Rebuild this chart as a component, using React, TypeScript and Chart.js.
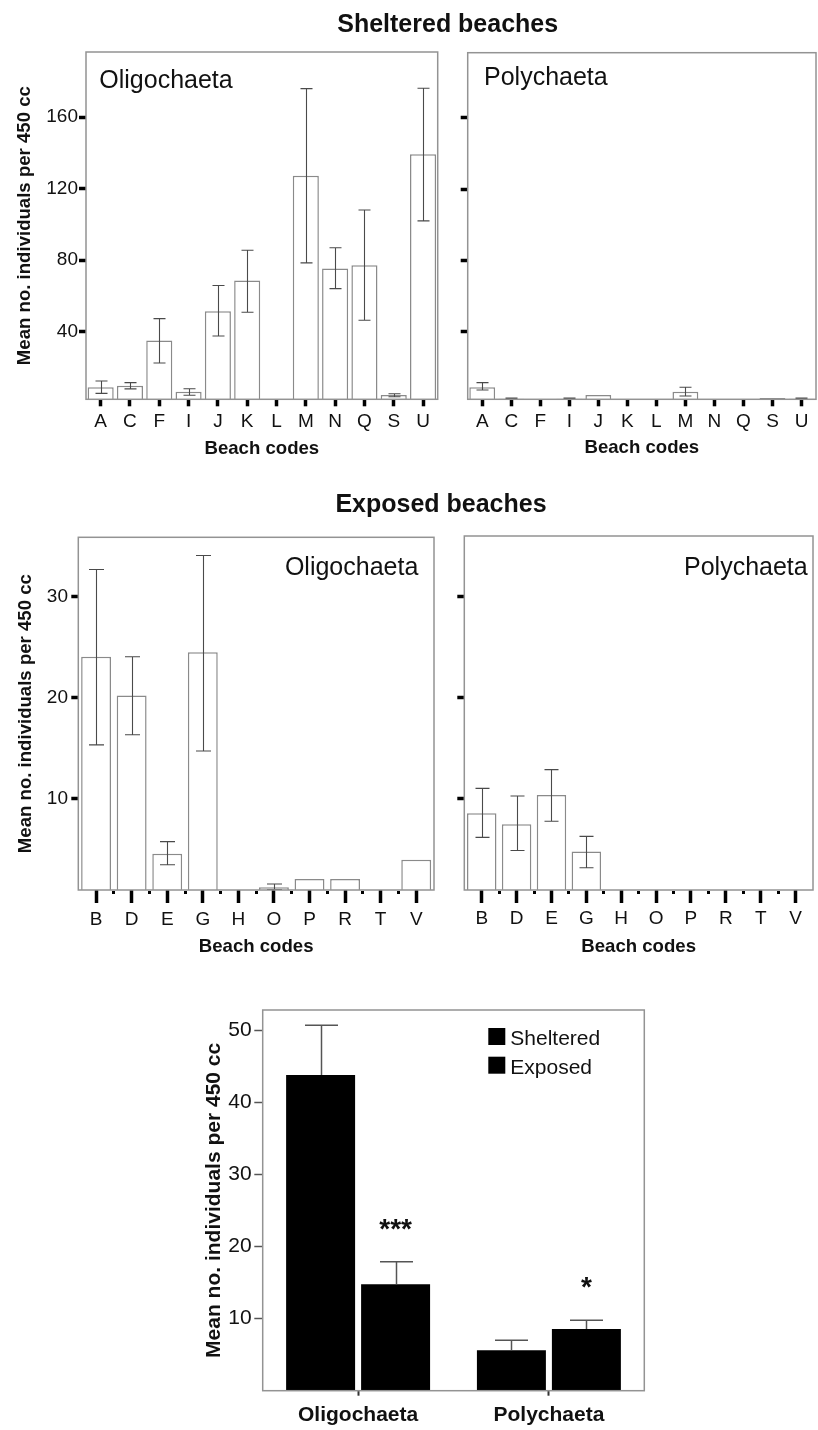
import React, { useEffect, useRef } from "react";
import { Chart, registerables } from "chart.js";

Chart.register(...registerables);

const FONT = "'Liberation Sans', Arial, Helvetica, sans-serif";
const INK = "#111111";

// ---------- Sheltered beaches ----------
const shelteredCodes = ["A", "C", "F", "I", "J", "K", "L", "M", "N", "Q", "S", "U"];
const shelteredOligoMean = [8.9, 9.8, 35, 6.4, 51.4, 68.6, 0, 127.3, 75.3, 77.2, 4.6, 139.3];
const shelteredOligoLow = [5.5, 8, 22.5, 4.4, 37.6, 50.9, null, 78.5, 64.1, 46.4, 3.6, 102];
const shelteredOligoHigh = [12.4, 11.5, 47.3, 8.1, 65.8, 85.6, null, 176, 87, 108.1, 5.3, 176.2];
const shelteredPolyMean = [8.9, 2.5, 0, 2.5, 4.6, 0, 0, 6.4, 0, 0, 2.9, 2.5];
const shelteredPolyLow = [7.4, 2.5, null, 2.5, null, null, null, 4.0, null, null, null, 2.5];
const shelteredPolyHigh = [11.5, 2.9, null, 2.9, null, null, null, 8.9, null, null, null, 2.9];
const shelteredTicks = [40, 80, 120, 160];

// ---------- Exposed beaches ----------
const exposedCodes = ["B", "D", "E", "G", "H", "O", "P", "R", "T", "V"];
const exposedOligoMean = [24.05, 20.2, 4.5, 24.5, 0, 1.17, 2.0, 2.0, 0, 3.9];
const exposedOligoLow = [15.3, 16.3, 3.4, 14.7, null, 0.95, null, null, null, null];
const exposedOligoHigh = [32.7, 24.05, 5.7, 34.1, null, 1.5, null, null, null, null];
const exposedPolyMean = [8.6, 7.5, 10.4, 4.8, 0, 0, 0, 0, 0, 0];
const exposedPolyLow = [6.2, 4.9, 7.8, 3.2, null, null, null, null, null, null];
const exposedPolyHigh = [11.05, 10.3, 12.9, 6.3, null, null, null, null, null, null];
const exposedTicks = [10, 20, 30];

// ---------- Summary ----------
const summaryGroups = ["Oligochaeta", "Polychaeta"];
const summarySeries = ["Sheltered", "Exposed"];
const summarySheltered = [43.8, 5.6];
const summaryShelteredErr = [50.7, 7.0];
const summaryExposed = [14.76, 8.56];
const summaryExposedErr = [17.9, 9.76];
const summarySignificance = ["***", "*"];
const summaryTicks = [10, 20, 30, 40, 50];

const Y_TITLE = "Mean no. individuals per 450 cc";
const X_TITLE = "Beach codes";
const AXIS_TITLE_SIZE = 18.6;

type Rect = { left: number; top: number; width: number; height: number };
type Area = { left: number; top: number; right: number; bottom: number };

const CANVASES: Rect[] = [
  { left: 0, top: 20, width: 445, height: 450 },
  { left: 445, top: 20, width: 373, height: 450 },
  { left: 0, top: 500, width: 445, height: 470 },
  { left: 445, top: 500, width: 373, height: 470 },
  { left: 170, top: 990, width: 490, height: 440 },
];

const decoPlugin = {
  id: "deco",
  afterDatasetsDraw(chart: any, _args: any, opts: any) {
    const { ctx, chartArea: a } = chart;
    const yScale = chart.scales.y;
    ctx.save();
    ctx.beginPath();
    ctx.rect(a.left, a.top - 1, a.right - a.left, a.bottom - a.top + 1);
    ctx.clip();
    ctx.strokeStyle = opts.errColor;
    ctx.lineWidth = opts.errWidth;
    chart.data.datasets.forEach((ds: any, di: number) => {
      const meta = chart.getDatasetMeta(di);
      const lows = ds.errLow || [];
      const highs = ds.errHigh || [];
      meta.data.forEach((el: any, i: number) => {
        const hi = highs[i];
        if (hi == null) return;
        const lo = lows[i];
        const x = Math.round(el.x) + 0.5;
        const yh = yScale.getPixelForValue(hi);
        const yl = yScale.getPixelForValue(lo != null ? lo : ds.data[i]);
        const h = opts.cap / 2;
        ctx.beginPath();
        ctx.moveTo(x, yl);
        ctx.lineTo(x, yh);
        ctx.moveTo(x - h, yh);
        ctx.lineTo(x + h, yh);
        if (lo != null) {
          ctx.moveTo(x - h, yl);
          ctx.lineTo(x + h, yl);
        }
        ctx.stroke();
      });
    });
    ctx.restore();
    ctx.save();
    ctx.strokeStyle = opts.frameColor;
    ctx.lineWidth = opts.frameWidth;
    ctx.strokeRect(a.left, a.top, a.right - a.left, a.bottom - a.top);
    ctx.restore();
  },
  afterDraw(chart: any, _args: any, opts: any) {
    const { ctx, chartArea: a } = chart;
    const xScale = chart.scales.x;
    const yScale = chart.scales.y;
    ctx.save();
    if (opts.dots) {
      ctx.fillStyle = "#000";
      const n = chart.data.labels.length;
      for (let i = 0; i < n - 1; i++) {
        const xm = (xScale.getPixelForValue(i) + xScale.getPixelForValue(i + 1)) / 2;
        ctx.fillRect(Math.round(xm - 1.5), a.bottom + 1, 3, 3);
      }
    }
    if (opts.panelLabel) {
      const p = opts.panelLabel;
      ctx.fillStyle = INK;
      ctx.font = `25px ${FONT}`;
      ctx.textBaseline = "alphabetic";
      ctx.textAlign = p.align;
      const x = p.align === "left" ? a.left + p.dx : a.right - p.dx;
      ctx.fillText(p.text, x, a.top + p.dy);
    }
    if (opts.legend) {
      const L = opts.legend;
      chart.data.datasets.forEach((ds: any, i: number) => {
        const sx = a.right - L.dxRight;
        const sy = a.top + L.dy + i * L.gap;
        ctx.fillStyle = ds.backgroundColor;
        ctx.fillRect(sx, sy, L.size, L.size);
        ctx.fillStyle = INK;
        ctx.font = `21px ${FONT}`;
        ctx.textBaseline = "alphabetic";
        ctx.textAlign = "left";
        ctx.fillText(ds.label, sx + L.size + L.textGap, sy + L.baseline);
      });
    }
    if (opts.marks) {
      const M = opts.marks;
      const ds = chart.data.datasets[M.dataset];
      const meta = chart.getDatasetMeta(M.dataset);
      ctx.fillStyle = INK;
      ctx.font = `bold 28px ${FONT}`;
      ctx.textAlign = "center";
      ctx.textBaseline = "alphabetic";
      M.texts.forEach((t: string, i: number) => {
        const el = meta.data[i];
        const top = ds.errHigh && ds.errHigh[i] != null ? ds.errHigh[i] : ds.data[i];
        ctx.fillText(t, el.x, yScale.getPixelForValue(top) - M.offset);
      });
    }
    ctx.restore();
  },
};

type PanelOpts = {
  canvas: Rect;
  area: Area;
  labels: string[];
  values: number[];
  low: (number | null)[];
  high: (number | null)[];
  yMin: number;
  yMax: number;
  yTicks: number[];
  yLabels: boolean;
  yTitleX: number | null;
  xTitleY: number;
  xTickLen: number;
  xLabelPad: number;
  yLabelPad: number;
  barPct: number;
  cap: number;
  dots: boolean;
  panelLabel: { text: string; align: "left" | "right"; dx: number; dy: number };
};

function panelConfig(o: PanelOpts): any {
  const lh = AXIS_TITLE_SIZE * 1.2;
  const yScaleLeft = o.yTitleX != null ? o.yTitleX - lh / 2 : o.canvas.left;
  const xScaleBottom = o.xTitleY + lh / 2;
  const padding = {
    left: yScaleLeft - o.canvas.left,
    top: o.area.top - o.canvas.top,
    right: o.canvas.left + o.canvas.width - o.area.right,
    bottom: o.canvas.top + o.canvas.height - xScaleBottom,
  };
  const yWidth = o.area.left - yScaleLeft;
  const xHeight = xScaleBottom - o.area.bottom;
  return {
    type: "bar",
    data: {
      labels: o.labels,
      datasets: [
        {
          data: o.values,
          errLow: o.low,
          errHigh: o.high,
          backgroundColor: "#ffffff",
          borderColor: "#8a8a8a",
          borderWidth: 1.5,
          barPercentage: o.barPct,
          categoryPercentage: 1,
          clip: 0,
        },
      ],
    },
    options: {
      responsive: false,
      animation: false,
      devicePixelRatio: 1,
      layout: { padding },
      plugins: {
        legend: { display: false },
        tooltip: { enabled: false },
        deco: {
          errColor: "#4a4a4a",
          errWidth: 1.1,
          cap: o.cap,
          frameColor: "#939393",
          frameWidth: 1.5,
          dots: o.dots,
          panelLabel: o.panelLabel,
        },
      },
      scales: {
        x: {
          type: "category",
          offset: true,
          grid: {
            offset: false,
            drawOnChartArea: false,
            drawTicks: true,
            tickLength: o.xTickLen,
            tickWidth: 3.5,
            tickColor: "#000",
            lineWidth: 1,
          },
          border: { display: false },
          ticks: {
            autoSkip: false,
            maxRotation: 0,
            padding: o.xLabelPad,
            color: INK,
            font: { family: FONT, size: 19 },
          },
          title: {
            display: true,
            text: X_TITLE,
            color: INK,
            font: { family: FONT, size: AXIS_TITLE_SIZE, weight: "bold" },
            padding: 0,
          },
          afterFit: (s: any) => {
            s.height = xHeight;
          },
        },
        y: {
          type: "linear",
          min: o.yMin,
          max: o.yMax,
          afterBuildTicks: (s: any) => {
            s.ticks = o.yTicks.map((v) => ({ value: v }));
          },
          grid: {
            drawOnChartArea: false,
            drawTicks: true,
            tickLength: 7,
            tickWidth: 3.5,
            tickColor: "#000",
            lineWidth: 1,
          },
          border: { display: false },
          ticks: {
            display: o.yLabels,
            padding: o.yLabelPad,
            color: INK,
            font: { family: FONT, size: 19 },
          },
          title: {
            display: o.yTitleX != null,
            text: Y_TITLE,
            color: INK,
            font: { family: FONT, size: AXIS_TITLE_SIZE, weight: "bold" },
            padding: 0,
          },
          afterFit: (s: any) => {
            s.width = yWidth;
          },
        },
      },
    },
    plugins: [decoPlugin],
  };
}

function summaryConfig(): any {
  const canvas = CANVASES[4];
  const area = { left: 262.7, top: 1010, right: 644.3, bottom: 1390.7 };
  const lh = 21 * 1.2;
  const yTitleX = 214;
  const yScaleLeft = yTitleX - lh / 2;
  const padding = {
    left: yScaleLeft - canvas.left,
    top: area.top - canvas.top,
    right: canvas.left + canvas.width - area.right,
    bottom: 0,
  };
  const yWidth = area.left - yScaleLeft;
  const xHeight = canvas.top + canvas.height - area.bottom;
  const common = {
    backgroundColor: "#000000",
    borderWidth: 0,
    barPercentage: 0.92,
    categoryPercentage: 0.786,
    clip: 0,
  };
  return {
    type: "bar",
    data: {
      labels: summaryGroups,
      datasets: [
        { label: summarySeries[0], data: summarySheltered, errHigh: summaryShelteredErr, ...common },
        { label: summarySeries[1], data: summaryExposed, errHigh: summaryExposedErr, ...common },
      ],
    },
    options: {
      responsive: false,
      animation: false,
      devicePixelRatio: 1,
      layout: { padding },
      plugins: {
        legend: { display: false },
        tooltip: { enabled: false },
        deco: {
          errColor: "#555555",
          errWidth: 1.5,
          cap: 33,
          frameColor: "#939393",
          frameWidth: 1.5,
          dots: false,
          legend: { dxRight: 156, dy: 18, gap: 28.7, size: 17, textGap: 5, baseline: 17 },
          marks: { dataset: 1, texts: summarySignificance, offset: 24 },
        },
      },
      scales: {
        x: {
          type: "category",
          offset: true,
          grid: {
            offset: false,
            drawOnChartArea: false,
            drawTicks: true,
            tickLength: 5,
            tickWidth: 2,
            tickColor: "#333",
            lineWidth: 1,
          },
          border: { display: false },
          ticks: {
            autoSkip: false,
            maxRotation: 0,
            padding: 6.7,
            color: INK,
            font: { family: FONT, size: 21, weight: "bold" },
          },
          afterFit: (s: any) => {
            s.height = xHeight;
          },
        },
        y: {
          type: "linear",
          min: 0,
          max: 52.8,
          afterBuildTicks: (s: any) => {
            s.ticks = summaryTicks.map((v) => ({ value: v }));
          },
          grid: {
            drawOnChartArea: false,
            drawTicks: true,
            tickLength: 8.4,
            tickWidth: 1.5,
            tickColor: "#555",
            lineWidth: 1,
          },
          border: { display: false },
          ticks: {
            padding: 2.6,
            color: INK,
            font: { family: FONT, size: 21 },
          },
          title: {
            display: true,
            text: Y_TITLE,
            color: INK,
            font: { family: FONT, size: 21, weight: "bold" },
            padding: 0,
          },
          afterFit: (s: any) => {
            s.width = yWidth;
          },
        },
      },
    },
    plugins: [decoPlugin],
  };
}

function buildConfigs(): any[] {
  return [
    panelConfig({
      canvas: CANVASES[0],
      area: { left: 86, top: 52, right: 437.7, bottom: 399.3 },
      labels: shelteredCodes,
      values: shelteredOligoMean,
      low: shelteredOligoLow,
      high: shelteredOligoHigh,
      yMin: 2.16,
      yMax: 196.5,
      yTicks: shelteredTicks,
      yLabels: true,
      yTitleX: 25,
      xTitleY: 449.3,
      xTickLen: 7,
      xLabelPad: 4,
      yLabelPad: 1,
      barPct: 0.89,
      cap: 12,
      dots: false,
      panelLabel: { text: "Oligochaeta", align: "left", dx: 13.3, dy: 36.3 },
    }),
    panelConfig({
      canvas: CANVASES[1],
      area: { left: 467.7, top: 52.7, right: 816, bottom: 399.3 },
      labels: shelteredCodes,
      values: shelteredPolyMean,
      low: shelteredPolyLow,
      high: shelteredPolyHigh,
      yMin: 2.16,
      yMax: 196.5,
      yTicks: shelteredTicks,
      yLabels: false,
      yTitleX: null,
      xTitleY: 448.3,
      xTickLen: 7,
      xLabelPad: 4,
      yLabelPad: 1,
      barPct: 0.89,
      cap: 12,
      dots: false,
      panelLabel: { text: "Polychaeta", align: "left", dx: 16.3, dy: 32.3 },
    }),
    panelConfig({
      canvas: CANVASES[2],
      area: { left: 78.3, top: 537.3, right: 434, bottom: 890 },
      labels: exposedCodes,
      values: exposedOligoMean,
      low: exposedOligoLow,
      high: exposedOligoHigh,
      yMin: 0.9,
      yMax: 35.9,
      yTicks: exposedTicks,
      yLabels: true,
      yTitleX: 25.8,
      xTitleY: 946.7,
      xTickLen: 13,
      xLabelPad: 4.9,
      yLabelPad: 3.3,
      barPct: 0.84,
      cap: 15,
      dots: true,
      panelLabel: { text: "Oligochaeta", align: "right", dx: 15.7, dy: 37.7 },
    }),
    panelConfig({
      canvas: CANVASES[3],
      area: { left: 464.3, top: 536, right: 813, bottom: 890 },
      labels: exposedCodes,
      values: exposedPolyMean,
      low: exposedPolyLow,
      high: exposedPolyHigh,
      yMin: 1.0,
      yMax: 36.0,
      yTicks: exposedTicks,
      yLabels: false,
      yTitleX: null,
      xTitleY: 946.7,
      xTickLen: 13,
      xLabelPad: 4.3,
      yLabelPad: 3.3,
      barPct: 0.845,
      cap: 14,
      dots: true,
      panelLabel: { text: "Polychaeta", align: "right", dx: 5.3, dy: 39 },
    }),
    summaryConfig(),
  ];
}

function sectionTitle(cx: number, top: number): React.CSSProperties {
  return {
    position: "absolute",
    left: cx - 200,
    top,
    width: 400,
    textAlign: "center",
    fontFamily: FONT,
    fontWeight: "bold",
    fontSize: 25,
    lineHeight: "30px",
    color: INK,
    whiteSpace: "nowrap",
  };
}

export default function App() {
  const r0 = useRef<HTMLCanvasElement>(null);
  const r1 = useRef<HTMLCanvasElement>(null);
  const r2 = useRef<HTMLCanvasElement>(null);
  const r3 = useRef<HTMLCanvasElement>(null);
  const r4 = useRef<HTMLCanvasElement>(null);
  const refs = [r0, r1, r2, r3, r4];

  useEffect(() => {
    const configs = buildConfigs();
    const charts = configs.map((cfg, i) => new Chart(refs[i].current as HTMLCanvasElement, cfg));
    return () => charts.forEach((c) => c.destroy());
  }, []);

  return (
    <div
      style={{
        position: "absolute",
        left: 0,
        top: 0,
        width: 818,
        height: 1430,
        background: "#ffffff",
        overflow: "hidden",
      }}
    >
      {CANVASES.map((c, i) => (
        <canvas
          key={i}
          ref={refs[i]}
          width={c.width}
          height={c.height}
          style={{ position: "absolute", left: c.left, top: c.top, width: c.width, height: c.height }}
        />
      ))}
      <div style={sectionTitle(447.7, 7.5)}>Sheltered beaches</div>
      <div style={sectionTitle(441, 487.5)}>Exposed beaches</div>
    </div>
  );
}
